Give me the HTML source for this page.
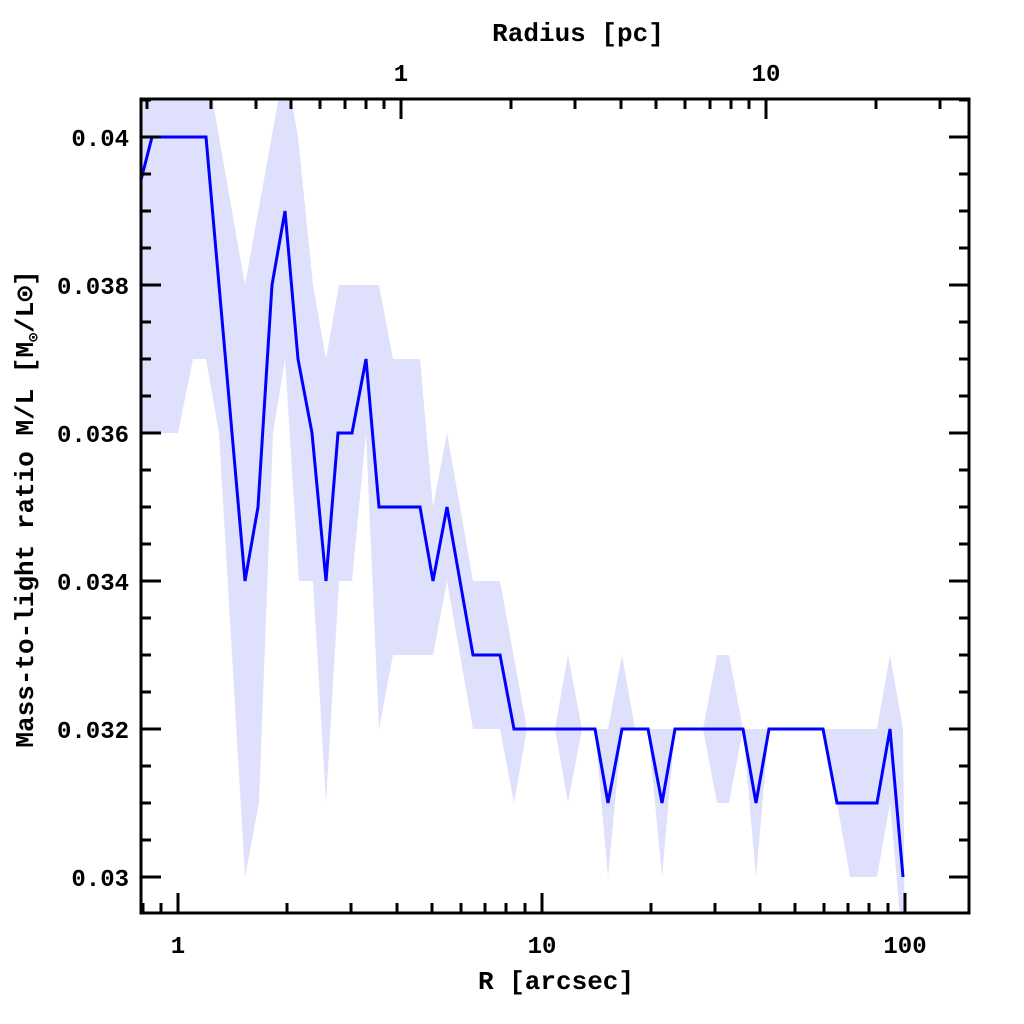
<!DOCTYPE html>
<html><head><style>
html,body{margin:0;padding:0;background:#fff;}
svg{display:block;}
text{font-family:"Liberation Mono",monospace;font-weight:bold;fill:#000;}
</style></head><body>
<svg width="1024" height="1024" viewBox="0 0 1024 1024" xmlns="http://www.w3.org/2000/svg">
<defs><clipPath id="c"><rect x="141" y="99" width="828" height="814"/></clipPath></defs>
<g clip-path="url(#c)">
<polygon fill="#dfe0fb" points="143,63 206,63 245,285 285,63 298,137 313,285 326,359 339,285 379,285 393,359 420,359 433,507 447,433 473,581 500,581 527,729 555,729 568,655 582,729 608,729 622,655 635,729 703,729 717,655 729,655 743,729 823,729 850,729 877,729 890,655 903,729 905,951 903,951 890,803 877,877 850,877 837,803 823,729 769,729 756,877 743,729 729,803 717,803 703,729 675,729 662,877 648,729 622,729 608,877 595,729 582,729 568,803 555,729 527,729 514,803 500,729 473,729 447,581 433,655 393,655 379,729 366,433 352,581 339,581 326,803 313,581 299,581 285,359 273,433 259,803 245,877 219,433 206,359 193,359 178,433 141,433"/>
<polyline fill="none" stroke="#0000ff" stroke-width="3" stroke-linejoin="miter" points="141,180 152,137 206,137 245,581 258,507 272,285 285,211 298,359 312,433 326,581 338,433 352,433 366,359 379,507 420,507 433,581 447,507 473,655 500,655 514,729 595,729 608,803 622,729 648,729 662,803 675,729 743,729 756,803 769,729 823,729 837,803 877,803 890,729 903,877"/>
</g>
<g stroke="#000" stroke-width="3" fill="none">
<rect x="141" y="99" width="828" height="814"/>
<path d="M178,913v-20M542,913v-20M905,913v-20M143,913v-10M161,913v-10M287,913v-10M351,913v-10M397,913v-10M432,913v-10M461,913v-10M485,913v-10M506,913v-10M525,913v-10M651,913v-10M715,913v-10M760,913v-10M795,913v-10M824,913v-10M848,913v-10M869,913v-10M888,913v-10"/>
<path d="M401,99v20M766,99v20M147,99v10M211,99v10M256,99v10M291,99v10M320,99v10M345,99v10M366,99v10M384,99v10M511,99v10M575,99v10M621,99v10M656,99v10M685,99v10M710,99v10M731,99v10M749,99v10M876,99v10M940,99v10"/>
<path d="M141,137h20M141,285h20M141,433h20M141,581h20M141,729h20M141,877h20M969,137h-20M969,285h-20M969,433h-20M969,581h-20M969,729h-20M969,877h-20"/>
<path d="M141,100h10M141,174h10M141,211h10M141,248h10M141,322h10M141,359h10M141,396h10M141,470h10M141,507h10M141,544h10M141,618h10M141,655h10M141,692h10M141,766h10M141,803h10M141,840h10M969,100h-10M969,174h-10M969,211h-10M969,248h-10M969,322h-10M969,359h-10M969,396h-10M969,470h-10M969,507h-10M969,544h-10M969,618h-10M969,655h-10M969,692h-10M969,766h-10M969,803h-10M969,840h-10"/>
</g>
<g font-size="24" text-anchor="end">
<text x="129" y="146">0.04</text>
<text x="129" y="294">0.038</text>
<text x="129" y="442">0.036</text>
<text x="129" y="590">0.034</text>
<text x="129" y="738">0.032</text>
<text x="129" y="886">0.03</text>
</g>
<g font-size="24" text-anchor="middle">
<text x="178" y="953">1</text>
<text x="542" y="953">10</text>
<text x="905" y="953">100</text>
<text x="401" y="81">1</text>
<text x="766" y="81">10</text>
<text x="556" y="989" font-size="26">R [arcsec]</text>
<text x="578" y="41" font-size="26">Radius [pc]</text>
<text transform="translate(33,509) rotate(-90)" font-size="26">Mass-to-light ratio M/L [M<tspan font-size="15" dy="5">⊙</tspan><tspan dy="-5">/L⊙]</tspan></text>
</g>
</svg>
</body></html>
